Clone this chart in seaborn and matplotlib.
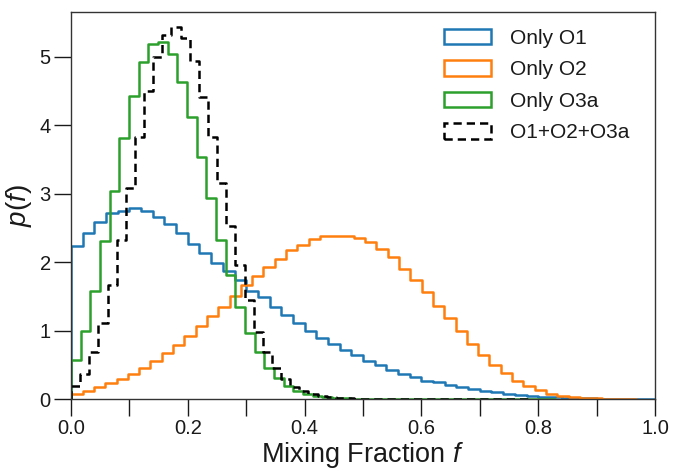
import numpy as np
import matplotlib
matplotlib.use("Agg")
import matplotlib.pyplot as plt
from matplotlib.patches import Patch
from matplotlib.ticker import MultipleLocator
import seaborn as sns

# ---------------- data (density per bin, 50 bins each) ----------------
series_labels = ["Only O1", "Only O2", "Only O3a", "O1+O2+O3a"]

o1_range = (0.0, 1.0)
o1_density = [2.23, 2.42, 2.59, 2.72, 2.75, 2.79, 2.75, 2.66, 2.56, 2.42,
              2.27, 2.13, 1.98, 1.87, 1.74, 1.57, 1.49, 1.35, 1.22, 1.11,
              0.99, 0.89, 0.81, 0.71, 0.64, 0.56, 0.50, 0.42, 0.37, 0.32,
              0.27, 0.245, 0.21, 0.18, 0.15, 0.12, 0.095, 0.075, 0.06, 0.045,
              0.035, 0.026, 0.019, 0.014, 0.010, 0.007, 0.005, 0.003, 0.002, 0.001]

o2_range = (0.0007, 0.968)
o2_density = [0.08, 0.12, 0.17, 0.23, 0.29, 0.37, 0.45, 0.56, 0.67, 0.79,
              0.92, 1.06, 1.21, 1.35, 1.50, 1.66, 1.79, 1.93, 2.04, 2.18,
              2.25, 2.33, 2.38, 2.38, 2.38, 2.35, 2.29, 2.19, 2.07, 1.90,
              1.74, 1.56, 1.36, 1.18, 0.99, 0.80, 0.64, 0.49, 0.38, 0.27,
              0.19, 0.13, 0.08, 0.045, 0.025, 0.015, 0.008, 0.005, 0.003, 0.002]

o3a_range = (0.0, 0.828)
o3a_density = [0.57, 1.00, 1.58, 2.30, 3.04, 3.81, 4.43, 4.92, 5.18, 5.21,
               5.04, 4.63, 4.12, 3.54, 2.93, 2.32, 1.81, 1.35, 0.96, 0.69,
               0.45, 0.30, 0.19, 0.12, 0.07, 0.04, 0.025, 0.015, 0.009, 0.005,
               0.003, 0.002, 0.001, 0.001, 0.0, 0.0, 0.0, 0.0, 0.0, 0.0,
               0.0, 0.0, 0.0, 0.0, 0.0, 0.0, 0.0, 0.0, 0.0, 0.0005]

all_range = (0.0, 0.782)
all_density = [0.19, 0.37, 0.68, 1.11, 1.67, 2.32, 3.08, 3.83, 4.50, 4.99,
               5.32, 5.43, 5.27, 4.93, 4.41, 3.82, 3.15, 2.52, 1.96, 1.45,
               0.98, 0.69, 0.45, 0.29, 0.18, 0.12, 0.08, 0.05, 0.03, 0.02,
               0.012, 0.007, 0.004, 0.002, 0.001, 0.0, 0.0, 0.0, 0.0, 0.0,
               0.0, 0.0, 0.0, 0.0, 0.0, 0.0, 0.0, 0.0, 0.0, 0.0005]

x_ticks = [0.0, 0.2, 0.4, 0.6, 0.8, 1.0]
y_ticks = [0, 1, 2, 3, 4, 5]

# ---------------- style ----------------
sns.set_style("ticks")
plt.rcParams["font.family"] = ["Liberation Sans", "DejaVu Sans"]
plt.rcParams["mathtext.fontset"] = "custom"
plt.rcParams["mathtext.it"] = "Liberation Sans:italic"
plt.rcParams["mathtext.rm"] = "Liberation Sans"
plt.rcParams["text.color"] = "#1a1a1a"
plt.rcParams["axes.labelcolor"] = "#1a1a1a"
plt.rcParams["xtick.color"] = "#1a1a1a"
plt.rcParams["ytick.color"] = "#1a1a1a"

colors = ["#1f77b4", "#ff7f0e", "#2ca02c", "black"]
styles = ["-", "-", "-", (0, (3.3, 2.0))]
LW = 1.8

fig = plt.figure(figsize=(6.73, 4.69), dpi=100)
ax = fig.add_axes([71 / 673, 1 - 399 / 469, 584 / 673, 387 / 469])

series = [(o1_density, o1_range), (o2_density, o2_range),
          (o3a_density, o3a_range), (all_density, all_range)]

for (dens, rng), c, ls, lab in zip(series, colors, styles, series_labels):
    n = len(dens)
    edges = np.linspace(rng[0], rng[1], n + 1)
    centers = 0.5 * (edges[:-1] + edges[1:])
    # zero-width outer bins so the outline drops to the baseline at both ends
    bins = [float(edges[0])] + [float(e) for e in edges] + [float(edges[-1])]
    sns.histplot(x=centers, weights=np.asarray(dens, dtype=float), bins=bins,
                 element="step", fill=False, color=c, linewidth=LW,
                 linestyle=ls, ax=ax)

ax.set_xlim(0, 1)
ax.set_ylim(0, 5.65)
ax.set_xticks(x_ticks)
ax.set_yticks(y_ticks)
ax.xaxis.set_minor_locator(MultipleLocator(0.1))
ax.tick_params(axis="both", which="major", direction="out", length=12,
               width=1, labelsize=14.5, pad=2.5)
ax.tick_params(axis="x", which="minor", direction="out", length=12, width=1)
for sp in ax.spines.values():
    sp.set_visible(True)
    sp.set_color("#333333")
    sp.set_linewidth(1)

ax.set_xlabel("Mixing Fraction $f$", fontsize=19.5, labelpad=1)
ax.set_ylabel("$p(f)$", fontsize=20, labelpad=4)

handles = [Patch(facecolor="none", edgecolor=c, linewidth=LW, linestyle=ls, label=l)
           for c, ls, l in zip(colors, styles, series_labels)]
ax.legend(handles=handles, loc="upper right", frameon=False, fontsize=15,
          handlelength=2.3, handleheight=0.75, handletextpad=0.9,
          labelspacing=0.6, borderaxespad=0.4, bbox_to_anchor=(0.985, 1.0))

fig.savefig("out.png", dpi=100)
